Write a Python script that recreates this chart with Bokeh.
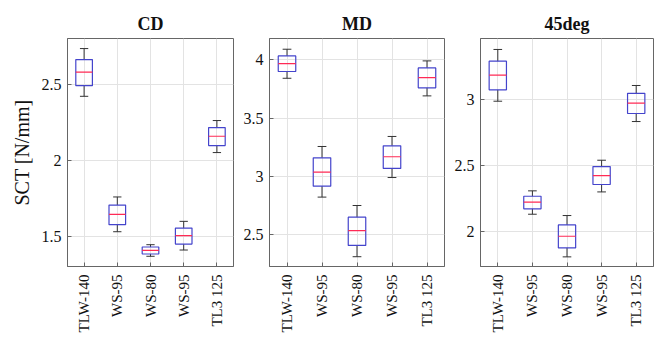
from bokeh.plotting import figure
from bokeh.layouts import row
from bokeh.models import FixedTicker, Range1d
from bokeh.embed import file_html
from bokeh.resources import INLINE

categories = ["TLW-140", "WS-95", "WS-80", "WS-95", "TL3 125"]
positions = [1, 2, 3, 4, 5]

# CD panel
cd_low = [2.421, 1.533, 1.372, 1.413, 2.052]
cd_q1 = [2.491, 1.579, 1.387, 1.452, 2.098]
cd_med = [2.579, 1.647, 1.411, 1.507, 2.159]
cd_q3 = [2.662, 1.708, 1.433, 1.557, 2.216]
cd_high = [2.734, 1.761, 1.448, 1.601, 2.262]
cd_ticks = [1.5, 2, 2.5]

# MD panel
md_low = [3.842, 2.823, 2.312, 2.991, 3.691]
md_q1 = [3.900, 2.917, 2.409, 3.069, 3.760]
md_med = [3.968, 3.037, 2.535, 3.169, 3.848]
md_q3 = [4.034, 3.160, 2.651, 3.263, 3.931]
md_high = [4.091, 3.257, 2.751, 3.343, 3.991]
md_ticks = [2.5, 3, 3.5, 4]

# 45deg panel
d45_low = [2.985, 2.129, 1.806, 2.298, 2.831]
d45_q1 = [3.071, 2.170, 1.874, 2.354, 2.892]
d45_med = [3.182, 2.220, 1.962, 2.422, 2.970]
d45_q3 = [3.288, 2.265, 2.048, 2.490, 3.045]
d45_high = [3.377, 2.306, 2.119, 2.538, 3.104]
d45_ticks = [2, 2.5, 3]

FONT = "Liberation Serif"
BLUE = "#4444cc"
RED = "#ff2a55"
WHISK = "#333333"


def panel(title, low, q1, med, q3, high, ticks, yr, fw, bl, br, ylabel=None):
    p = figure(frame_width=fw, frame_height=228, output_backend="svg", toolbar_location=None,
               x_range=Range1d(0.5, 5.5), y_range=Range1d(*yr),
               min_border_left=bl, min_border_right=br, min_border_top=38,
               min_border_bottom=66)
    p.title.text = title
    p.title.align = "center"
    p.title.text_font = FONT
    p.title.text_font_size = "18px"
    p.title.text_font_style = "bold"
    p.title.text_color = "#111111"
    p.title.standoff = 10

    half_box = 0.25
    half_cap = 0.125
    xl = [x - half_box for x in positions]
    xr = [x + half_box for x in positions]
    cl = [x - half_cap for x in positions]
    cr = [x + half_cap for x in positions]

    p.segment(x0=positions, y0=q3, x1=positions, y1=high, line_color=WHISK, line_width=1)
    p.segment(x0=positions, y0=low, x1=positions, y1=q1, line_color=WHISK, line_width=1)
    p.segment(x0=cl, y0=high, x1=cr, y1=high, line_color=WHISK, line_width=1)
    p.segment(x0=cl, y0=low, x1=cr, y1=low, line_color=WHISK, line_width=1)
    p.quad(left=xl, right=xr, bottom=q1, top=q3, fill_color=None, line_color=BLUE, line_width=1.2)
    p.segment(x0=xl, y0=med, x1=xr, y1=med, line_color=RED, line_width=1.2)

    p.xaxis.ticker = FixedTicker(ticks=positions)
    p.xaxis.major_label_overrides = {pos: c for pos, c in zip(positions, categories)}
    p.xaxis.major_label_orientation = 1.5708
    p.yaxis.ticker = FixedTicker(ticks=ticks)
    p.yaxis.major_label_overrides = {t: ("%g" % t) for t in ticks}

    for ax in (p.xaxis, p.yaxis):
        ax.major_label_text_font = FONT
        ax.major_label_text_color = "#111111"
        ax.axis_line_color = "#666666"
        ax.major_tick_line_color = "#666666"
        ax.major_tick_in = 4
        ax.major_tick_out = 0
        ax.minor_tick_line_color = None
    p.xaxis.major_label_text_font_size = "15px"
    p.yaxis.major_label_text_font_size = "16px"
    p.xaxis.major_label_standoff = 8
    p.yaxis.major_label_standoff = 6
    p.outline_line_color = "#666666"
    p.outline_line_alpha = 1
    p.grid.grid_line_color = "#e3e3e3"

    if ylabel:
        p.yaxis.axis_label = ylabel
        p.yaxis.axis_label_text_font = FONT
        p.yaxis.axis_label_text_font_size = "20px"
        p.yaxis.axis_label_text_font_style = "normal"
        p.yaxis.axis_label_text_color = "#111111"
        p.yaxis.axis_label_standoff = 6
    p.background_fill_color = "white"
    p.border_fill_color = "white"
    return p


p1 = panel("CD", cd_low, cd_q1, cd_med, cd_q3, cd_high, cd_ticks, (1.305, 2.80), 166, 67, 7, "SCT [N/mm]")
p2 = panel("MD", md_low, md_q1, md_med, md_q3, md_high, md_ticks, (2.228, 4.183), 175, 28, 7)
p3 = panel("45deg", d45_low, d45_q1, d45_med, d45_q3, d45_high, d45_ticks, (1.733, 3.46), 173, 28, 5)

layout = row(p1, p2, p3)
open("out.html", "w").write(file_html(layout, INLINE))
